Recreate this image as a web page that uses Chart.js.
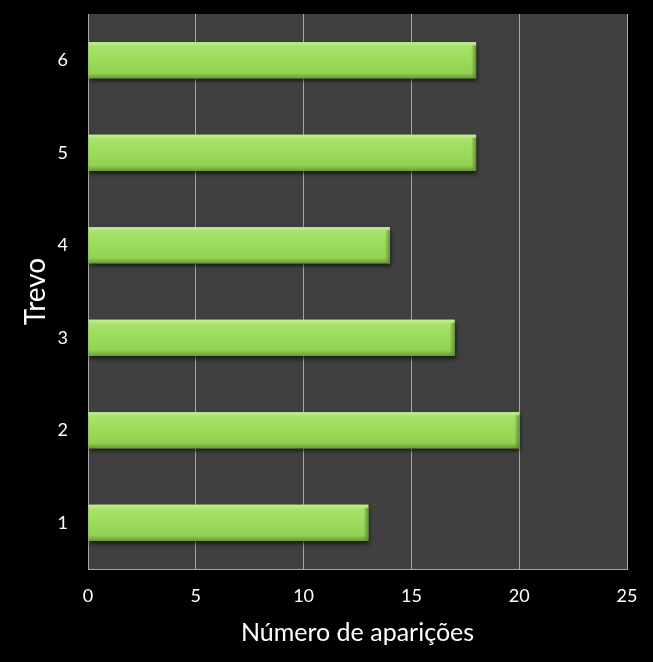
<!DOCTYPE html>
<html>
<head>
<meta charset="utf-8">
<script src="https://cdn.jsdelivr.net/npm/chart.js@4.4.1/dist/chart.umd.min.js"></script>
<style>
  html, body { margin: 0; padding: 0; background: #000; }
  #wrap { width: 653px; height: 662px; }
</style>
</head>
<body>
<div id="wrap"><canvas id="trevoChart" width="653" height="662"></canvas></div>
<script>
// Trevo x número de aparições
const trevos = ["1", "2", "3", "4", "5", "6"];
const aparicoes = [13, 20, 17, 14, 18, 18];
const xTicks = [0, 5, 10, 15, 20, 25];

// fundo cinza da área do gráfico
const plotBg = {
  id: "plotBg",
  beforeDraw(chart) {
    const { ctx, chartArea: a } = chart;
    ctx.save();
    ctx.fillStyle = "#404040";
    ctx.fillRect(a.left, a.top, a.right - a.left, a.bottom - a.top);
    ctx.restore();
  },
};

// sombra + brilho das barras (estilo Excel)
const bevel = {
  id: "bevel",
  beforeDatasetsDraw(chart) {
    const ctx = chart.ctx;
    ctx.save();
    ctx.shadowColor = "rgba(0,0,0,0.6)";
    ctx.shadowBlur = 4;
    ctx.shadowOffsetX = 1;
    ctx.shadowOffsetY = 3;
  },
  afterDatasetsDraw(chart) {
    const ctx = chart.ctx;
    ctx.restore();
    const meta = chart.getDatasetMeta(0);
    meta.data.forEach((bar) => {
      const top = bar.y - bar.height / 2;
      const left = bar.base;
      const w = bar.x - bar.base;
      const h = bar.height;
      const g = ctx.createLinearGradient(0, top, 0, top + h);
      g.addColorStop(0, "#c3ee95");
      g.addColorStop(0.12, "#a8e26c");
      g.addColorStop(0.5, "#9bdb5a");
      g.addColorStop(0.85, "#92d152");
      g.addColorStop(1, "#6c9a3a");
      ctx.save();
      ctx.fillStyle = g;
      ctx.fillRect(left, top, w, h);
      // bevel na ponta direita
      const r = ctx.createLinearGradient(left + w - 5, 0, left + w, 0);
      r.addColorStop(0, "rgba(90,130,45,0)");
      r.addColorStop(1, "rgba(90,130,45,0.8)");
      ctx.fillStyle = r;
      ctx.fillRect(left + w - 5, top + 3, 5, h - 3);
      ctx.restore();
    });
  },
};

const ctx = document.getElementById("trevoChart").getContext("2d");

new Chart(ctx, {
  type: "bar",
  data: {
    labels: trevos,
    datasets: [
      {
        label: "Aparições",
        data: aparicoes,
        backgroundColor: "#9bdb5a",
        borderWidth: 0,
        barPercentage: 0.39,
        categoryPercentage: 1,
      },
    ],
  },
  options: {
    indexAxis: "y",
    responsive: false,
    animation: false,
    layout: {
      padding: { left: 0, right: 26, top: 14, bottom: 0 },
    },
    plugins: {
      legend: { display: false },
      tooltip: { enabled: false },
    },
    scales: {
      x: {
        min: 0,
        max: 25,
        afterBuildTicks(axis) {
          axis.ticks = xTicks.map((v) => ({ value: v }));
        },
        afterFit(axis) {
          axis.height = 93;
          axis.paddingLeft = 0;
          axis.paddingRight = 0;
        },
        grid: {
          color: "#a6a6a6",
          lineWidth: 1,
          drawTicks: false,
        },
        border: { color: "#a6a6a6", width: 1 },
        ticks: {
          color: "#ffffff",
          padding: 16,
          maxRotation: 0,
          font: { family: "Lato", size: 18 },
        },
        title: {
          display: true,
          text: "Número de aparições",
          color: "#ffffff",
          padding: { top: 0, bottom: 14 },
          font: { family: "Lato", size: 25 },
        },
      },
      y: {
        reverse: true,
        afterFit(axis) {
          axis.width = 88;
          axis.paddingTop = 0;
          axis.paddingBottom = 0;
        },
        grid: { display: false, drawTicks: false },
        border: { color: "#a6a6a6", width: 1 },
        ticks: {
          color: "#ffffff",
          padding: 20,
          font: { family: "Lato", size: 18 },
        },
        title: {
          display: true,
          text: "Trevo",
          color: "#ffffff",
          padding: { top: 19, bottom: 0 },
          font: { family: "Lato", size: 28 },
        },
      },
    },
  },
  plugins: [plotBg, bevel],
});
</script>
</body>
</html>
